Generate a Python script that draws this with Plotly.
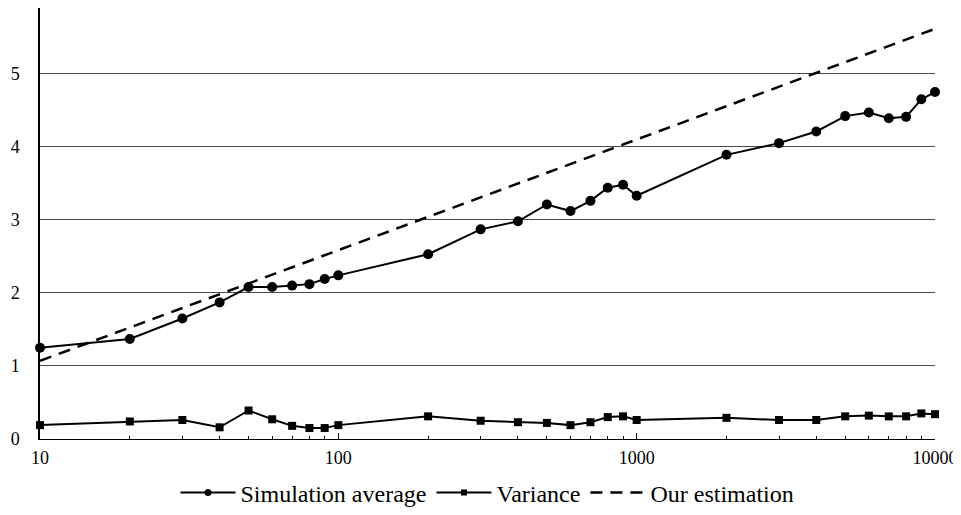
import plotly.graph_objects as go

# Data
n_values = [10, 20, 30, 40, 50, 60, 70, 80, 90, 100,
            200, 300, 400, 500, 600, 700, 800, 900, 1000,
            2000, 3000, 4000, 5000, 6000, 7000, 8000, 9000, 10000]
sim_average = [1.25, 1.37, 1.65, 1.87, 2.08, 2.08, 2.10, 2.12, 2.19, 2.24,
               2.53, 2.87, 2.98, 3.21, 3.12, 3.26, 3.44, 3.48, 3.33,
               3.89, 4.05, 4.21, 4.42, 4.47, 4.39, 4.41, 4.65, 4.75]
variance = [0.19, 0.24, 0.26, 0.16, 0.39, 0.27, 0.18, 0.15, 0.15, 0.19,
            0.31, 0.25, 0.23, 0.22, 0.19, 0.23, 0.30, 0.31, 0.26,
            0.29, 0.26, 0.26, 0.31, 0.32, 0.31, 0.31, 0.35, 0.34]
est_n = [10, 100, 1000, 10000]
est_values = [1.07, 2.585, 4.10, 5.615]

x_tick_vals = [10, 100, 1000, 10000]
x_tick_text = ["10", "100", "1000", "10000"]
y_tick_vals = [0, 1, 2, 3, 4, 5]
y_tick_text = ["0", "1", "2", "3", "4", "5"]

FONT = "'Liberation Serif', 'Times New Roman', Times, serif"

fig = go.Figure()

fig.add_trace(go.Scatter(
    x=est_n, y=est_values, mode="lines", showlegend=False,
    line=dict(color="black", width=2.5, dash="12px,8px"), cliponaxis=False))
fig.add_trace(go.Scatter(
    x=n_values, y=sim_average, mode="lines+markers", showlegend=False,
    line=dict(color="black", width=2),
    marker=dict(symbol="circle", size=10, color="black"), cliponaxis=False))
fig.add_trace(go.Scatter(
    x=n_values, y=variance, mode="lines+markers", showlegend=False,
    line=dict(color="black", width=2),
    marker=dict(symbol="square", size=8, color="black"), cliponaxis=False))

# legend entries
fig.add_trace(go.Scatter(
    x=[None], y=[None], mode="lines+markers", name="Simulation average",
    line=dict(color="black", width=2),
    marker=dict(symbol="circle", size=7, color="black")))
fig.add_trace(go.Scatter(
    x=[None], y=[None], mode="lines+markers", name="Variance",
    line=dict(color="black", width=2),
    marker=dict(symbol="square", size=6, color="black")))
fig.add_trace(go.Scatter(
    x=[None], y=[None], mode="lines", name="Our estimation",
    line=dict(color="black", width=2.5, dash="12px,8px")))

# The page body has an 8px margin, so the figure is sized 8px smaller.
fig.update_layout(
    width=953, height=507,
    margin=dict(l=32, r=26, t=0, b=76, autoexpand=False),
    paper_bgcolor="white", plot_bgcolor="white",
    font=dict(family=FONT, color="black", size=17),
    showlegend=True,
    legend=dict(orientation="h", x=0.5, xanchor="center",
                y=-0.125, yanchor="middle",
                font=dict(family=FONT, size=24, color="black"),
                itemwidth=55, tracegroupgap=0),
    xaxis=dict(type="log", range=[1, 4], automargin=False,
               tickvals=x_tick_vals, ticktext=x_tick_text,
               ticks="inside", ticklen=6, tickcolor="black", tickwidth=1,
               minor=dict(ticks="inside", ticklen=3, tickcolor="black",
                          dtick="D1", showgrid=False),
               showline=True, linecolor="black", linewidth=1,
               showgrid=False, zeroline=False, ticklabelstandoff=2,
               tickfont=dict(family=FONT, size=18, color="black")),
    yaxis=dict(range=[0, 5.9], tickvals=y_tick_vals, ticktext=y_tick_text,
               automargin=False,
               ticks="", showline=True, linecolor="black", linewidth=1.5,
               showgrid=True, gridcolor="#4a4a4a", gridwidth=1,
               zeroline=False, ticklabelstandoff=15,
               tickfont=dict(family=FONT, size=18, color="black")),
)

fig.write_html("out.html")
